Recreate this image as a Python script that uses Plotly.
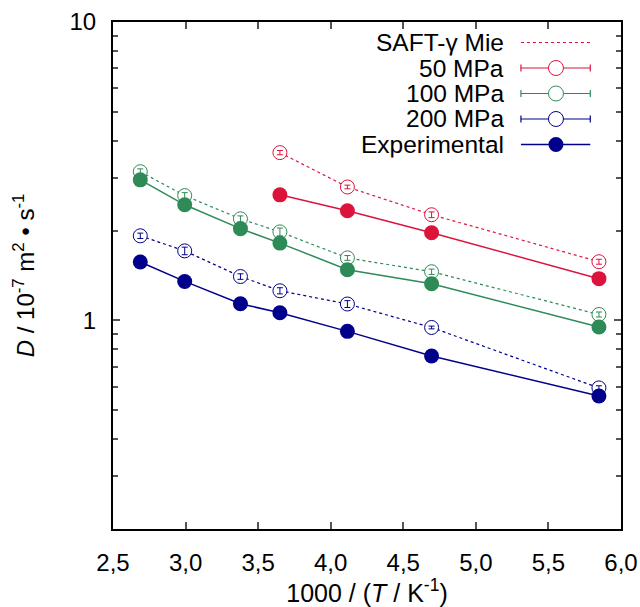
import math
import plotly.graph_objects as go

# ---- data ----
inv_T = [2.688, 2.994, 3.378, 3.650, 4.115, 4.695, 5.848]

exp_50 = [None, None, None, 2.635, 2.33, 1.966, 1.38]
exp_100 = [2.958, 2.44, 2.03, 1.816, 1.479, 1.327, 0.95]
exp_200 = [1.569, 1.351, 1.137, 1.061, 0.919, 0.760, 0.558]

saft_50 = [None, None, None, 3.65, 2.80, 2.26, 1.573]
saft_50_err = [0, 0, 0, 0.06, 0.04, 0.05, 0.03]
saft_100 = [3.15, 2.62, 2.19, 1.98, 1.62, 1.456, 1.047]
saft_100_err = [0.07, 0.06, 0.05, 0.06, 0.03, 0.03, 0.02]
saft_200 = [1.921, 1.71, 1.403, 1.257, 1.135, 0.947, 0.594]
saft_200_err = [0.04, 0.05, 0.03, 0.03, 0.03, 0.01, 0.01]

x_ticks = [2.5, 3.0, 3.5, 4.0, 4.5, 5.0, 5.5, 6.0]
y_major = [1, 10]
y_minor = [0.3, 0.4, 0.5, 0.6, 0.7, 0.8, 0.9, 2, 3, 4, 5, 6, 7, 8, 9]

legend_labels = ["SAFT-\u03b3 Mie", "50 MPa", "100 MPa", "200 MPa", "Experimental"]

RED = "#dc143c"
GREEN = "#2e8b57"
NAVY = "#00008b"
FONT = "Liberation Sans, Arial, sans-serif"

fig = go.Figure()

def saft(y, err, color):
    fig.add_trace(go.Scatter(
        x=inv_T, y=y, mode="lines+markers", connectgaps=False,
        line=dict(color=color, width=1.2, dash="dot"),
        marker=dict(symbol="circle", size=14, color="white",
                    line=dict(color=color, width=1)),
        showlegend=False, hoverinfo="skip"))
    fig.add_trace(go.Scatter(
        x=inv_T, y=y, mode="markers",
        marker=dict(size=1, color=color, opacity=0),
        error_y=dict(type="data", array=err, color=color, thickness=1, width=3),
        showlegend=False, hoverinfo="skip"))

def exper(y, color):
    fig.add_trace(go.Scatter(
        x=inv_T, y=y, mode="lines+markers", connectgaps=False,
        line=dict(color=color, width=1.5),
        marker=dict(symbol="circle", size=15, color=color, line=dict(width=0)),
        showlegend=False, hoverinfo="skip"))

saft(saft_50, saft_50_err, RED)
saft(saft_100, saft_100_err, GREEN)
saft(saft_200, saft_200_err, NAVY)
exper(exp_50, RED)
exper(exp_100, GREEN)
exper(exp_200, NAVY)

# ---- gnuplot-style legend (text right-aligned, sample to the right) ----
L, R, T, B = 113, 620.7, 22, 529
def px(xp):
    return (xp - L) / (R - L)
def py(yp):
    return (B - yp) / (B - T)

rows = [42.5, 68, 93.5, 119, 144.5]
x_text = 505
x_l0, x_l1, x_m = 520.7, 590, 555.7
styles = [("saft", RED), ("err", RED), ("err", GREEN), ("err", NAVY), ("exp", NAVY)]
shapes = []
annotations = []
for lab, yr, (kind, col) in zip(legend_labels, rows, styles):
    annotations.append(dict(x=px(x_text), y=py(yr), xref="paper", yref="paper",
                            text=lab, showarrow=False, xanchor="right", yanchor="middle",
                            height=25.4, valign="middle", borderpad=0,
                            font=dict(family=FONT, size=24.5, color="black")))
    if kind == "saft":
        shapes.append(dict(type="line", xref="paper", yref="paper",
                           x0=px(x_l0), x1=px(x_l1), y0=py(yr), y1=py(yr),
                           line=dict(color=col, width=1.2, dash="dot")))
    else:
        shapes.append(dict(type="line", xref="paper", yref="paper",
                           x0=px(x_l0), x1=px(x_l1), y0=py(yr), y1=py(yr),
                           line=dict(color=col, width=1.5 if kind == "exp" else 1.2)))
        if kind == "err":
            for xe in (x_l0, x_l1):
                shapes.append(dict(type="line", xref="paper", yref="paper",
                                   x0=px(xe), x1=px(xe), y0=py(yr - 3.5), y1=py(yr + 3.5),
                                   line=dict(color=col, width=1.2)))
            shapes.append(dict(type="circle", xref="paper", yref="paper",
                               xsizemode="pixel", ysizemode="pixel",
                               xanchor=px(x_m), yanchor=py(yr),
                               x0=-7.5, x1=7.5, y0=-7.5, y1=7.5,
                               fillcolor="white", line=dict(color=col, width=1)))
        else:
            shapes.append(dict(type="circle", xref="paper", yref="paper",
                               xsizemode="pixel", ysizemode="pixel",
                               xanchor=px(x_m), yanchor=py(yr),
                               x0=-7.5, x1=7.5, y0=-7.5, y1=7.5,
                               fillcolor=col, line=dict(color=col, width=0)))

fig.update_layout(
    width=640, height=607,
    margin=dict(l=L, r=640 - R, t=T, b=607 - B),
    paper_bgcolor="white", plot_bgcolor="white",
    separators=",.",
    font=dict(family=FONT, size=24, color="black"),
    shapes=shapes, annotations=annotations,
    showlegend=False,
)
fig.update_xaxes(
    range=[2.5, 6.0], tickmode="array", tickvals=x_ticks, tickformat=".1f",
    showgrid=False, zeroline=False, automargin=False,
    showline=True, linecolor="black", linewidth=2, mirror="ticks",
    ticks="inside", ticklen=7, tickwidth=1.5, tickcolor="#555",
    ticklabelstandoff=11,
    tickfont=dict(family=FONT, size=24, color="black"),
    title=dict(text="1000 / (<i>T</i> / K<sup>-1</sup>)", standoff=9,
               font=dict(family=FONT, size=25, color="black")),
)
fig.update_yaxes(
    type="log", range=[math.log10(0.2), 1],
    tickmode="array", tickvals=y_major, ticktext=["1", "10"],
    showgrid=False, zeroline=False, automargin=False,
    showline=True, linecolor="black", linewidth=2, mirror="ticks",
    ticks="inside", ticklen=7, tickwidth=1.5, tickcolor="#555",
    ticklabelstandoff=10,
    minor=dict(tickmode="array", tickvals=y_minor, ticks="inside", ticklen=5,
               tickwidth=1.5, tickcolor="#555", showgrid=False),
    tickfont=dict(family=FONT, size=24, color="black"),
    title=dict(text="<i>D</i> / 10<sup>-7</sup> m<sup>2</sup> \u2022 s<sup>-1</sup>", standoff=28,
               font=dict(family=FONT, size=24, color="black")),
)

fig.write_html("out.html")
